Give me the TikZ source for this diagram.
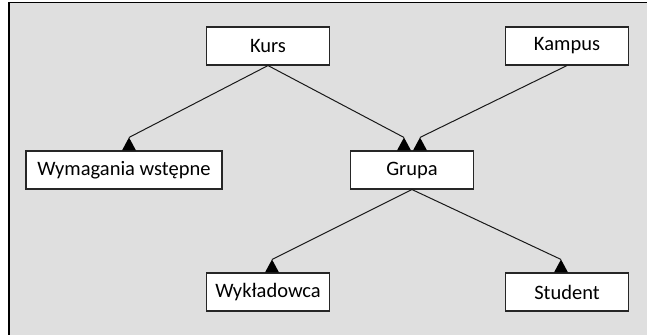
\documentclass[tikz,border=0pt]{standalone}
\usepackage{fontspec}
\setmainfont{Carlito}
\usetikzlibrary{calc}
\definecolor{bggray}{HTML}{DFDFDF}
\begin{document}
\begin{tikzpicture}[x=1pt,y=-1pt,
  box/.style={draw=black!85, line width=1.1pt, fill=white, inner sep=0pt,
    minimum width=123pt, minimum height=38pt, font=\fontsize{20.5}{22}\selectfont},
  conn/.style={draw=black!90, line width=1pt},
  tip/.style={fill=black}]
\useasboundingbox (0,0) rectangle (647,335);
\fill[bggray] (8,2) rectangle (647,335);
\draw[line width=0.8pt] (8,2.4) -- (647,2.4);
\draw[line width=1.8pt] (8.9,2) -- (8.9,335);

\node[box] (kurs) at (268,46) {Kurs};
\node[box] (kampus) at (567,46) {Kampus};
\node[box, minimum width=196pt] (wym) at (124,170) {Wymagania wstępne};
\node[box] (grupa) at (412,170) {Grupa};
\node[box] (wyk) at (268,292) {Wykładowca};
\node[box] (student) at (567,292) {Student};

\coordinate (a1) at ($(wym.north)+(5,-13)$);
\coordinate (a2) at ($(grupa.north)+(-8,-13)$);
\coordinate (a3) at ($(grupa.north)+(8,-13)$);
\coordinate (a4) at ($(wyk.north)+(4,-13)$);
\coordinate (a5) at ($(student.north)+(-6,-13)$);

\draw[conn] (kurs.south) -- (a1);
\draw[conn] (kurs.south) -- (a2);
\draw[conn] (kampus.south) -- (a3);
\draw[conn] (grupa.south) -- (a4);
\draw[conn] (grupa.south) -- (a5);

\foreach \c in {a1,a2,a3,a4,a5}
  \fill[tip] (\c) -- ++(7,13) -- ++(-14,0) -- cycle;
\end{tikzpicture}
\end{document}
